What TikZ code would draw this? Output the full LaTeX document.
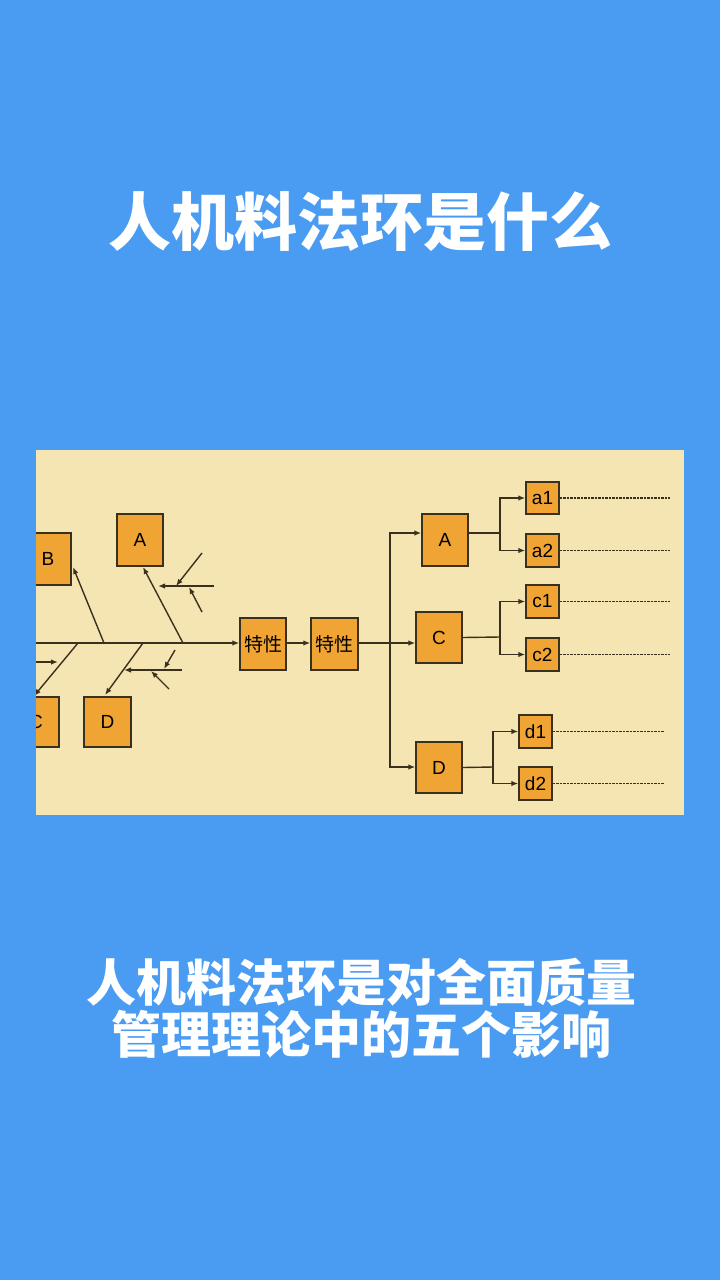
\documentclass[tikz,border=0pt]{standalone}
\usepackage{fontspec}
\setmainfont{Liberation Sans}
\newfontfamily\cjk{Noto Sans CJK SC}
\usetikzlibrary{arrows.meta}
\definecolor{bgblue}{HTML}{4A9BF2}
\definecolor{panel}{HTML}{F5E5B2}
\definecolor{boxor}{HTML}{F0A433}
\definecolor{ln}{HTML}{3A3020}
\begin{document}
\begin{tikzpicture}[x=1pt,y=-1pt,
  bx/.style={draw=ln,line width=1.4pt,fill=boxor,inner sep=0pt,font=\fontsize{19}{19}\selectfont},
  ln/.style={draw=ln,line width=1.4pt},
  ar/.style={ln,-{Latex[length=7pt,width=5.5pt]}},
  dl/.style={draw=ln,line width=1.2pt,dash pattern=on 2.5pt off 1pt}]
\fill[bgblue] (0,0) rectangle (720,1280);
\useasboundingbox (0,0) rectangle (720,1280);
\node[text=white,font=\cjk\bfseries\fontsize{63}{66}\selectfont] (title) at (360,222) {人机料法环是什么};
\node[text=white,font=\cjk\bfseries\fontsize{50}{52}\selectfont,align=center] (sub) at (361,1008) {人机料法环是对全面质量\\管理理论中的五个影响};
\fill[panel] (36,450) rectangle (684,815);
\begin{scope}
\clip (36,450) rectangle (684,815);
\node[bx,minimum width=46pt,minimum height=52pt] (B) at (48,559) {B};
\node[bx,minimum width=46pt,minimum height=52pt] (A) at (140,540) {A};
\node[bx,minimum width=46pt,minimum height=50pt] (C) at (36,722) {C};
\node[bx,minimum width=47pt,minimum height=50pt] (D) at (107.5,722) {D};
\node[bx,minimum width=46pt,minimum height=52pt,font=\cjk\fontsize{19}{19}\selectfont] (T1) at (263,644) {特性};
\node[bx,minimum width=47pt,minimum height=52pt,font=\cjk\fontsize{19}{19}\selectfont] (T2) at (334.5,644) {特性};
\coordinate (s0) at (30,643);
\draw[ar] (s0) -- (T1.west|-s0);
\draw[ar] (T1.east|-s0) -- (T2.west|-s0);
\coordinate (bB) at (104,643); \coordinate (bA) at (183,643);
\coordinate (bC) at (78,643); \coordinate (bD) at (143,643);
\draw[ar] (bB) -- (73,567);
\draw[ar] (bA) -- (143,567);
\draw[ar] (bC) -- (34,696);
\draw[ar] (bD) -- (105,695);
\draw[ar] (214,586) -- (158,586);
\draw[ar] (202,553) -- (176,586);
\draw[ar] (202,612) -- (189,587);
\draw[ar] (30,662) -- (58,662);
\draw[ar] (182,670) -- (124,670);
\draw[ar] (175,650) -- (164,669);
\draw[ar] (169,689) -- (151,671);
\node[bx,minimum width=46pt,minimum height=52pt] (RA) at (445,540) {A};
\node[bx,minimum width=46pt,minimum height=51pt] (RC) at (439,637.5) {C};
\node[bx,minimum width=46pt,minimum height=51pt] (RD) at (439,767.5) {D};
\node[bx,minimum width=33pt,minimum height=32pt] (a1) at (542.5,498) {a1};
\node[bx,minimum width=33pt,minimum height=33pt] (a2) at (542.5,550.5) {a2};
\node[bx,minimum width=33pt,minimum height=33pt] (c1) at (542.5,601.5) {c1};
\node[bx,minimum width=33pt,minimum height=33pt] (c2) at (542.5,654.5) {c2};
\node[bx,minimum width=33pt,minimum height=33pt] (d1) at (535.5,731.5) {d1};
\node[bx,minimum width=33pt,minimum height=33pt] (d2) at (535.5,783.5) {d2};
\coordinate (bus) at (390,643);
\draw[ln] (T2.east|-bus) -- (bus);
\draw[ar] (bus) -- (RC.west|-bus);
\draw[ar] (390,643) |- (RA.west|-533,533);
\draw[ar] (390,643) |- (RD.west|-767,767);
\draw[ln] (RA.east|-533,533) -- (500,533);
\draw[ar] (500,533) |- (a1.west);
\draw[ar] (500,533) |- (a2.west);
\draw[ln] (RC.east) -- (500,637);
\draw[ar] (500,637) |- (c1.west);
\draw[ar] (500,637) |- (c2.west);
\draw[ln] (RD.east) -- (493,767);
\draw[ar] (493,767) |- (d1.west);
\draw[ar] (493,767) |- (d2.west);
\draw[dl] (a1.east) -- ++(110,0);
\draw[dl] (a2.east) -- ++(110,0);
\draw[dl] (c1.east) -- ++(110,0);
\draw[dl] (c2.east) -- ++(110,0);
\draw[dl] (d1.east) -- ++(111,0);
\draw[dl] (d2.east) -- ++(111,0);
\end{scope}
\end{tikzpicture}
\end{document}
